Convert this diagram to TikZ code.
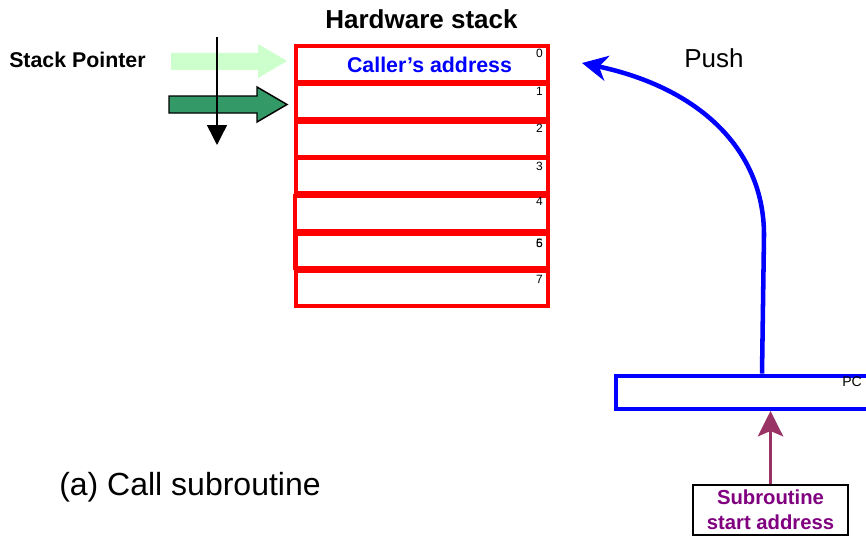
\documentclass[tikz,border=0pt]{standalone}
\usepackage{fontspec}
\setmainfont{Liberation Sans}
\usetikzlibrary{arrows.meta}

\definecolor{lightarrow}{HTML}{CCFFCC}
\definecolor{darkarrow}{HTML}{339966}
\definecolor{startcol}{HTML}{993366}
\definecolor{starttext}{HTML}{800080}

\tikzset{
  cell/.style={draw=red, line width=3pt, minimum width=189pt,
    minimum height=26.25pt, inner sep=0pt},
  idx/.style={font=\fontsize{9}{10}\selectfont, anchor=base east, inner sep=0pt},
  heading/.style={font=\bfseries\fontsize{19.5}{23}\selectfont, inner sep=0pt},
  plainlabel/.style={inner sep=0pt, anchor=base west},
  pushline/.style={draw=blue, line width=3.4pt,
    -{Stealth[length=19pt, width=19pt, inset=6pt]}},
  loadline/.style={draw=startcol, line width=2.4pt,
    -{Stealth[length=19pt, width=19pt, inset=4pt]}},
  pointerline/.style={draw=black, line width=1.1pt,
    -{Triangle[length=15pt, width=15pt]}},
}

\begin{document}
\begin{tikzpicture}[x=0.75pt, y=-0.75pt]
\useasboundingbox (0,0) rectangle (866,535);

% titles and captions
\node[heading, anchor=base] (title) at (421.5,29) {Hardware stack};
\node[plainlabel, font=\bfseries\fontsize{16}{19}\selectfont] (splabel) at (9,68) {Stack Pointer};
\node[plainlabel, font=\fontsize{19.5}{23}\selectfont] (pushlabel) at (684,67) {Push};
\node[plainlabel, font=\fontsize{24}{28}\selectfont] (caption) at (59,495) {(a) Call subroutine};

% stack pointer arrows (old and new position)
\fill[lightarrow] (171,53) -- (258,53) -- (258,44) -- (287,61) -- (258,78) -- (258,70) -- (171,70) -- cycle;
\filldraw[fill=darkarrow, draw=black, line width=1.1pt]
  (169,96) -- (257,96) -- (257,87) -- (287,104.5) -- (257,122) -- (257,113) -- (169,113) -- cycle;
\coordinate (sptop) at (217,37);
\coordinate (spbot) at (217,145);
\draw[pointerline] (sptop) -- (spbot);

% hidden index under the overlapping cells
\node[idx] (i5) at (543,247) {5};

% stack cells
\node[cell] (s0) at (422,64) {};
\node[cell] (s1) at (422,101.5) {};
\node[cell] (s2) at (422,139) {};
\node[cell] (s3) at (422,175.5) {};
\node[cell, minimum width=190pt] (s4) at (421.5,213) {};
\node[cell, minimum width=190pt] (s5) at (421.5,250) {};
\node[cell] (s6) at (422,251) {};
\node[cell] (s7) at (422,288.5) {};

\node[inner sep=0pt, anchor=base, text=blue, font=\bfseries\fontsize{16}{19}\selectfont]
  (caller) at (429.5,72) {Caller’s address};

\node[idx] (i0) at (543,58) {0};
\node[idx] (i1) at (543,95) {1};
\node[idx] (i2) at (543,132) {2};
\node[idx] (i3) at (543,170) {3};
\node[idx] (i4) at (543,205) {4};
\node[idx] (i6) at (543,247) {6};
\node[idx] (i7) at (543,283) {7};

% program counter
\node[draw=blue, line width=3pt, minimum width=213pt, minimum height=25.1pt,
  inner sep=0pt] (pc) at (758,392.25) {};
\node[plainlabel, font=\fontsize{10.5}{12}\selectfont] (pclabel) at (842,386) {PC};

% subroutine start address
\node[draw=black, line width=1.5pt, minimum width=116pt, minimum height=37.5pt,
  inner sep=0pt, align=center, text=starttext,
  font=\bfseries\fontsize{15.2}{18.75}\selectfont] (start) at (770.5,510)
  {Subroutine\\start address};

% push of the return address
\coordinate (pushend) at (582,63);
\draw[pushline] ([xshift=111pt]pc.north west) -- (764,235)
  .. controls (764,150) and (700,88) .. (pushend);

% load of the start address into the PC
\draw[loadline] (start.north) -- (start.north |- pc.south);
\end{tikzpicture}
\end{document}
